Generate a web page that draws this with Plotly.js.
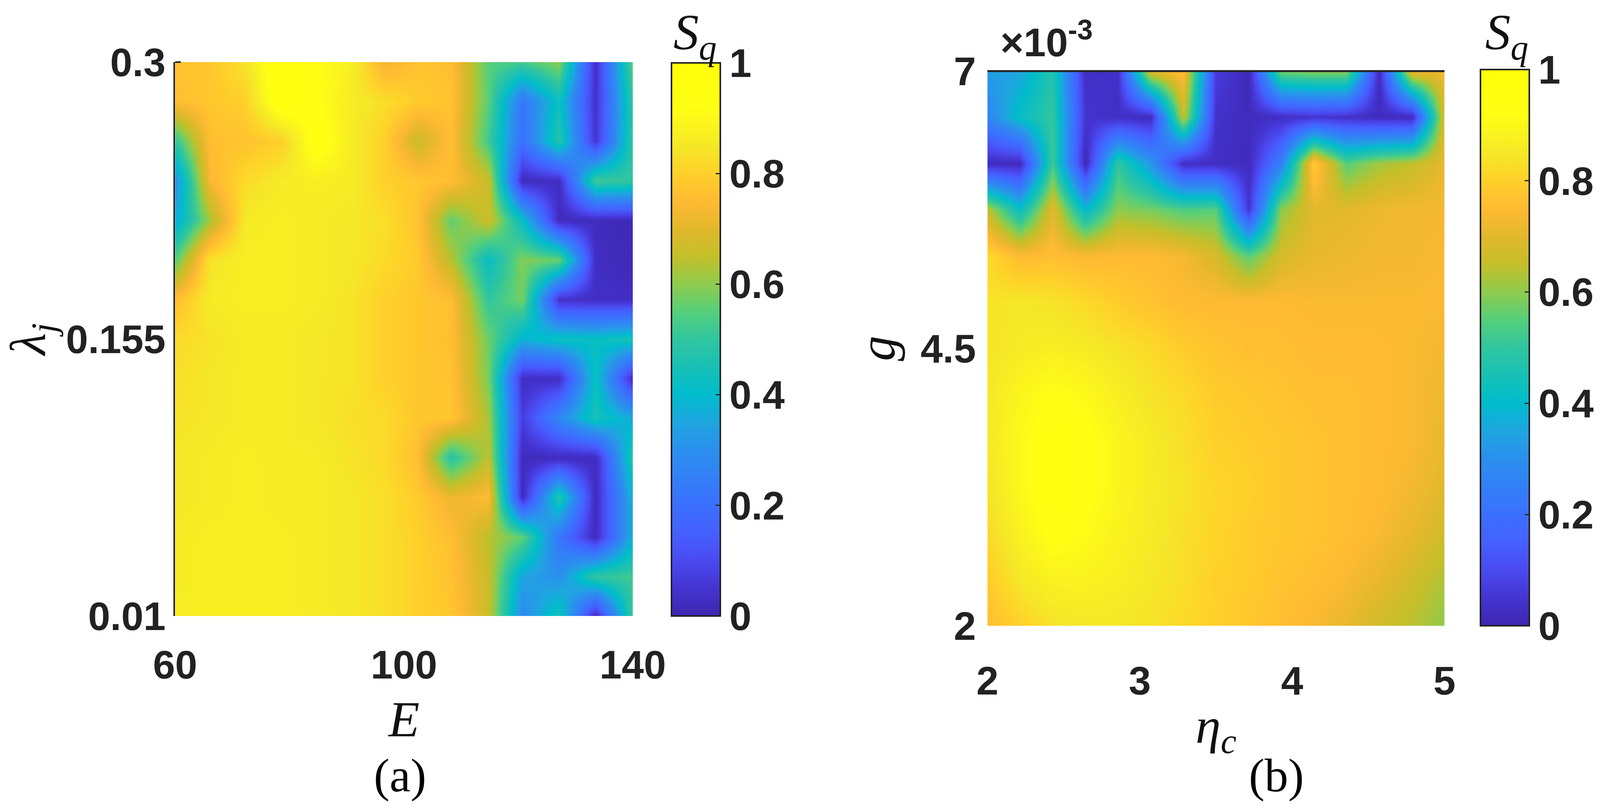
<!DOCTYPE html>
<html>
<head>
<meta charset="utf-8">
<script src="https://cdn.plot.ly/plotly-3.0.1.min.js"></script>
<style>html,body{margin:0;padding:0;background:#fff;overflow:hidden}</style>
</head>
<body>
<div id="chart"></div>
<script>
// Panel (a)
const E_values = [60,66.1,72.2,78.6,84.7,91.1,96.7,102.4,108.2,114.8,120.7,127.1,133.5,140];
const lambda_values = [0.3,0.2793,0.2586,0.2379,0.2171,0.1964,0.1757,0.155,0.1343,0.1136,0.0929,0.0721,0.0514,0.0307,0.01];
const Sq_a = [
[.77,.78,.84,.98,.92,.87,.72,.77,.76,.55,.53,.6,.03,.56],
[.76,.78,.8,.97,.92,.86,.83,.79,.77,.55,.22,.43,.04,.5],
[.5,.76,.77,.8,.95,.86,.8,.66,.76,.52,.2,.48,.05,.5],
[.3,.74,.82,.86,.87,.86,.8,.78,.76,.66,.02,.03,.52,.5],
[.36,.62,.86,.87,.86,.85,.83,.77,.56,.67,.42,.02,.02,.01],
[.55,.84,.87,.87,.86,.85,.82,.79,.64,.42,.59,.57,.03,.01],
[.76,.86,.87,.87,.86,.84,.8,.78,.76,.5,.58,.04,.03,.03],
[.82,.84,.86,.86,.85,.84,.8,.78,.76,.57,.38,.43,.42,.45],
[.83,.85,.86,.86,.85,.84,.8,.78,.77,.58,.03,.03,.43,.02],
[.84,.85,.86,.86,.85,.83,.82,.78,.78,.62,.07,.28,.45,.36],
[.85,.86,.87,.86,.86,.84,.82,.76,.48,.65,.02,.02,.02,.48],
[.85,.86,.87,.86,.86,.85,.83,.79,.72,.75,.02,.48,.02,.38],
[.86,.87,.87,.87,.86,.85,.83,.8,.76,.64,.56,.22,.02,.38],
[.86,.87,.87,.87,.86,.85,.83,.8,.77,.66,.35,.3,.5,.52],
[.87,.87,.87,.87,.86,.85,.83,.8,.78,.66,.28,.45,.02,.52]
];
// Panel (b)
const eta_values = [2,2.214,2.429,2.643,2.857,3.071,3.286,3.5,3.714,3.929,4.143,4.357,4.571,4.786,5];
const g_values = [7,6.583,6.167,5.75,5.333,4.917,4.5,4.083,3.667,3.25,2.833,2.417,2];
const Sq_b = [
[.33,.35,.47,.03,.04,.7,.76,.07,.01,.58,.6,.6,.02,.73,.72],
[.27,.42,.5,.05,.03,.02,.66,.04,.02,.03,.05,.04,.02,.02,.7],
[.02,.02,.52,.01,.5,.32,.03,.03,.02,.25,.8,.55,.62,.65,.71],
[.65,.42,.7,.4,.6,.58,.54,.55,.05,.6,.7,.7,.72,.73,.73],
[.82,.75,.76,.74,.75,.75,.73,.68,.55,.68,.71,.72,.73,.73,.74],
[.84,.85,.84,.82,.79,.77,.75,.75,.75,.75,.74,.74,.74,.74,.74],
[.84,.86,.87,.86,.84,.82,.79,.77,.76,.76,.75,.75,.75,.74,.73],
[.85,.89,.92,.9,.87,.84,.82,.79,.78,.77,.76,.76,.75,.74,.72],
[.85,.9,.95,.93,.89,.86,.83,.8,.79,.78,.77,.76,.75,.74,.71],
[.84,.9,.95,.93,.89,.86,.84,.81,.8,.78,.77,.76,.75,.73,.7],
[.82,.88,.93,.91,.88,.86,.83,.81,.79,.78,.77,.76,.74,.71,.67],
[.79,.85,.88,.88,.87,.85,.83,.8,.79,.77,.76,.74,.71,.67,.63],
[.76,.8,.84,.85,.85,.84,.82,.8,.78,.76,.74,.71,.67,.64,.6]
];
// Ticks
const E_ticks = [60,100,140];
const lambda_ticks = [0.01,0.155,0.3];
const lambda_tick_text = ['0.01','0.155','0.3'];
const eta_ticks = [2,3,4,5];
const g_ticks = [2,4.5,7];
const Sq_ticks = [0,0.2,0.4,0.6,0.8,1];
const Sq_tick_text = ['0','0.2','0.4','0.6','0.8','1'];
const colours = [
[0,'#3E26B0'],[0.05,'#4434D0'],[0.1,'#4A4AF0'],[0.15,'#4560FF'],[0.2,'#3B70FF'],
[0.3,'#2B8FEE'],[0.35,'#1FA5E0'],[0.4,'#00BCCC'],[0.5,'#30C5A0'],[0.55,'#55CF7B'],
[0.6,'#8FCB4D'],[0.65,'#C4BF2A'],[0.7,'#E2B82C'],[0.75,'#FFBA33'],[0.8,'#FFD02A'],
[0.85,'#F5E828'],[0.92,'#FFFF14'],[1,'#FFFF0A']
];

// The figure is laid out on a 5451x2066 sheet and fitted to whatever window it gets.
const SHEET_W = 5451, SHEET_H = 2066;
const W = window.innerWidth || SHEET_W, H = window.innerHeight || SHEET_H;
const sx = W / SHEET_W, sy = H / SHEET_H, sf = Math.sqrt(sx * sy);
const px = v => v / SHEET_W, py = v => 1 - v / SHEET_H;
const sans = 'Liberation Sans', serif = 'Liberation Serif';
const fs = v => Math.round(v * sf);
const tickFont = {family: sans, size: fs(118), color: '#222222', weight: 700};
const barFont = {family: sans, size: fs(118), color: '#222222', weight: 700};
const mathFont = {family: serif, size: fs(150), color: '#111111'};
const capFont = {family: serif, size: fs(140), color: '#000000'};
const nb = '\u00A0';

document.getElementById('chart').style.width = W + 'px';
document.getElementById('chart').style.height = H + 'px';

function bar(x0, x1, top, bottom) {
  return {
    x: px(x0), xanchor: 'left', xpad: 0,
    y: py(bottom), yanchor: 'bottom', ypad: 0,
    len: (bottom - top) / SHEET_H, lenmode: 'fraction',
    thickness: (x1 - x0) * sx, thicknessmode: 'pixels',
    outlinecolor: '#222222', outlinewidth: 4,
    borderwidth: 0,
    ticks: 'inside', ticklen: 14, tickwidth: 3, tickcolor: '#222222',
    tickmode: 'array', tickvals: Sq_ticks, ticktext: Sq_tick_text,
    tickfont: barFont
  };
}

const traces = [
  {type: 'heatmap', x: E_values, y: lambda_values, z: Sq_a, xaxis: 'x', yaxis: 'y',
   zmin: 0, zmax: 1, zsmooth: 'best', colorscale: colours, colorbar: bar(2301, 2467, 161, 1577)},
  {type: 'heatmap', x: eta_values, y: g_values, z: Sq_b, xaxis: 'x2', yaxis: 'y2',
   zmin: 0, zmax: 1, zsmooth: 'best', colorscale: colours, colorbar: bar(5072, 5239, 178, 1602)}
];

const baseAxis = {showgrid: false, zeroline: false, ticks: '', tickfont: tickFont, fixedrange: true, automargin: false};

const note = (x, y, text, font, extra) => Object.assign(
  {xref: 'paper', yref: 'paper', x: px(x), y: py(y), xanchor: 'center', yanchor: 'middle',
   text: text, showarrow: false, font: font}, extra || {});

const layout = {
  width: W, height: H,
  margin: {l: 0, r: 0, t: 0, b: 0},
  paper_bgcolor: '#ffffff', plot_bgcolor: '#ffffff',
  font: {family: sans},
  showlegend: false,
  xaxis: Object.assign({}, baseAxis, {
    domain: [px(600), px(2168)], anchor: 'y', range: [60, 140],
    tickmode: 'array', tickvals: E_ticks, ticktext: E_ticks.map(String), ticklabelstandoff: 57 * sy,
    title: {text: '<i>E</i>', font: mathFont, standoff: 35 * sy}
  }),
  yaxis: Object.assign({}, baseAxis, {
    domain: [py(1577), py(159)], anchor: 'x', range: [0.01, 0.3],
    tickmode: 'array', tickvals: lambda_ticks, ticktext: lambda_tick_text, ticklabelstandoff: 47 * sx,
    showline: true, linecolor: '#222222', linewidth: 4,
    title: {text: '<i>λ<sub>j</sub></i>', font: mathFont, standoff: 58 * sx}
  }),
  xaxis2: Object.assign({}, baseAxis, {
    domain: [px(3383), px(4949)], anchor: 'y2', range: [2, 5],
    tickmode: 'array', tickvals: eta_ticks, ticktext: eta_ticks.map(String), ticklabelstandoff: 73 * sy,
    title: {text: '<i>η<sub>c</sub></i>', font: mathFont, standoff: 10 * sy}
  }),
  yaxis2: Object.assign({}, baseAxis, {
    domain: [py(1602), py(182)], anchor: 'x2', range: [2, 7],
    tickmode: 'array', tickvals: g_ticks, ticktext: g_ticks.map(v => String(v) + nb), ticklabelstandoff: 73 * sx,
    title: {text: '<i>g</i>', font: mathFont, standoff: 30 * sx}
  }),
  shapes: [
    {type: 'line', xref: 'x2 domain', yref: 'y2 domain', x0: 0, x1: 1, y0: 1, y1: 1,
     line: {color: '#222222', width: 5}},
    {type: 'line', xref: 'x domain', yref: 'y domain', x0: 0, x1: 0.0125, y0: 1, y1: 1,
     line: {color: '#222222', width: 4}}
  ],
  annotations: [
    note(2381, 92, '<i>S<sub>q</sub></i>', mathFont),
    note(5162, 92, '<i>S<sub>q</sub></i>', mathFont),
    note(3425, 168, '×10<sup>-3</sup>', tickFont, {xanchor: 'left', yanchor: 'bottom'}),
    note(1370, 1985, '(a)', capFont),
    note(4373, 1985, '(b)', capFont)
  ]
};

Plotly.newPlot('chart', traces, layout, {displayModeBar: false, responsive: false});
</script>
</body>
</html>
